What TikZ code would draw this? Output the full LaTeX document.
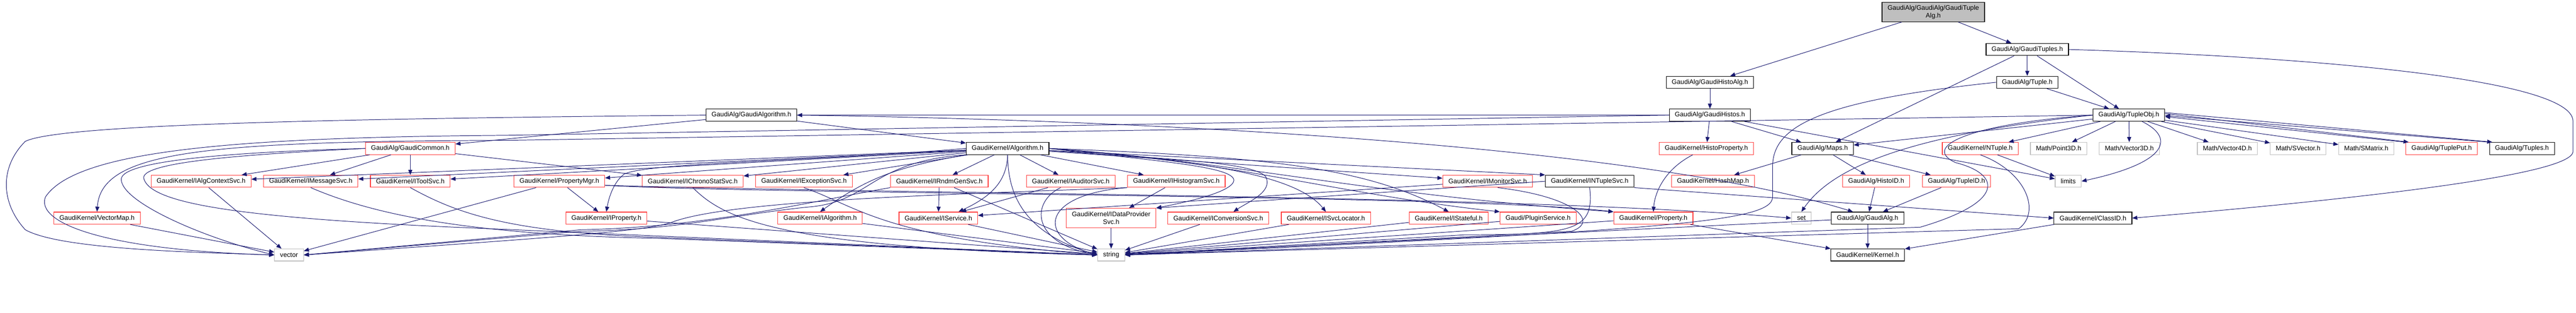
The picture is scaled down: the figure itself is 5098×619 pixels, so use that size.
\documentclass[tikz,border=0pt]{standalone}
\usepackage{fontspec}
\setmainfont{Liberation Sans}
\usetikzlibrary{arrows.meta, shapes}

\definecolor{edgeblue}{RGB}{25,25,112}
\definecolor{boxred}{RGB}{255,60,60}
\definecolor{boxgrey}{RGB}{191,191,191}

\tikzset{
	file/.style={draw=black, rectangle, line width=1.2pt, text=black, minimum height=24pt, inner xsep=11pt, inner ysep=3pt, font=\fontsize{13}{15}\selectfont, align=center},
	redfile/.style={file, draw=boxred},
	sysfile/.style={file, draw=boxgrey},
	mainfile/.style={file, fill=boxgrey}
}

\begin{document}
\begin{tikzpicture}[x=1pt, y=-1pt, ->, >={Triangle[length=10pt, width=8pt]}, color=edgeblue, line width=1pt]
		\useasboundingbox (0,0) rectangle (5098,619);

		\node[mainfile, minimum height=38pt] (0) at (3826, 24) {GaudiAlg/GaudiAlg/GaudiTuple\\Alg.h};
		\node[file] (1) at (3384, 163) {GaudiAlg/GaudiHistoAlg.h};
		\node[file] (2) at (4012, 98) {GaudiAlg/GaudiTuples.h};
		\node[file] (3) at (4012, 163) {GaudiAlg/Tuple.h};
		\node[file] (4) at (1487, 228) {GaudiAlg/GaudiAlgorithm.h};
		\node[file] (5) at (3384, 228) {GaudiAlg/GaudiHistos.h};
		\node[file] (6) at (4213, 228) {GaudiAlg/TupleObj.h};
		\node[redfile] (7) at (812, 294) {GaudiAlg/GaudiCommon.h};
		\node[file] (8) at (1994, 294) {GaudiKernel/Algorithm.h};
		\node[redfile] (9) at (3377, 294) {GaudiKernel/HistoProperty.h};
		\node[file] (10) at (3607, 294) {GaudiAlg/Maps.h};
		\node[redfile] (11) at (3919, 294) {GaudiKernel/NTuple.h};
		\node[sysfile] (12) at (4074, 294) {Math/Point3D.h};
		\node[sysfile] (13) at (4214, 294) {Math/Vector3D.h};
		\node[sysfile] (14) at (4408, 294) {Math/Vector4D.h};
		\node[sysfile] (15) at (4548, 294) {Math/SVector.h};
		\node[sysfile] (16) at (4683, 294) {Math/SMatrix.h};
		\node[redfile] (17) at (4832, 294) {GaudiAlg/TuplePut.h};
		\node[file] (18) at (4991, 294) {GaudiAlg/Tuples.h};
		\node[redfile] (19) at (398, 359) {GaudiKernel/IAlgContextSvc.h};
		\node[redfile] (20) at (615, 359) {GaudiKernel/IMessageSvc.h};
		\node[redfile] (21) at (812, 359) {GaudiKernel/IToolSvc.h};
		\node[redfile] (22) at (1107, 359) {GaudiKernel/PropertyMgr.h};
		\node[redfile] (23) at (1371, 359) {GaudiKernel/IChronoStatSvc.h};
		\node[redfile] (24) at (1591, 359) {GaudiKernel/IExceptionSvc.h};
		\node[redfile] (25) at (1859, 359) {GaudiKernel/IRndmGenSvc.h};
		\node[redfile] (26) at (2119, 359) {GaudiKernel/IAuditorSvc.h};
		\node[redfile] (27) at (2328, 359) {GaudiKernel/IHistogramSvc.h};
		\node[redfile] (28) at (2944, 359) {GaudiKernel/IMonitorSvc.h};
		\node[file] (29) at (3146, 359) {GaudiKernel/INTupleSvc.h};
		\node[redfile] (30) at (3390, 359) {GaudiKernel/HashMap.h};
		\node[redfile] (31) at (3713, 359) {GaudiAlg/HistoID.h};
		\node[redfile] (32) at (3872, 359) {GaudiAlg/TupleID.h};
		\node[sysfile] (33) at (4093, 359) {limits};
		\node[redfile] (34) at (192, 432) {GaudiKernel/VectorMap.h};
		\node[redfile] (35) at (1200, 432) {GaudiKernel/IProperty.h};
		\node[redfile] (36) at (1623, 432) {GaudiKernel/IAlgorithm.h};
		\node[redfile] (37) at (1857, 432) {GaudiKernel/IService.h};
		\node[redfile, minimum height=39pt] (38) at (2199, 432) {GaudiKernel/IDataProvider\\Svc.h};
		\node[redfile] (39) at (2411, 432) {GaudiKernel/IConversionSvc.h};
		\node[redfile] (40) at (2624, 432) {GaudiKernel/ISvcLocator.h};
		\node[redfile] (41) at (2867, 432) {GaudiKernel/IStateful.h};
		\node[redfile] (42) at (3044, 432) {Gaudi/PluginService.h};
		\node[redfile] (43) at (3272, 432) {GaudiKernel/Property.h};
		\node[sysfile] (44) at (3565, 432) {set};
		\node[file] (45) at (3696, 432) {GaudiAlg/GaudiAlg.h};
		\node[file] (46) at (4142, 432) {GaudiKernel/ClassID.h};
		\node[sysfile] (47) at (572, 505) {vector};
		\node[sysfile] (48) at (2199, 505) {string};
		\node[file] (49) at (3696, 505) {GaudiKernel/Kernel.h};

		\path (0) edge (1)
			(0) edge (2)
			(2) edge (3)
			(2) edge (6)
			(2) edge (10)
			(3) edge (6)
			(1) edge (5)
			(5) edge (9)
			(5) edge (10)
			(5) edge (4)
			(5) edge (33)
			(6) edge (11)
			(6) edge (12)
			(6) edge (13)
			(6) edge (14)
			(6) edge (15)
			(6) edge (16)
			([yshift=3pt]6.east) edge ([xshift=6pt]17.north west)
			([xshift=-2pt]17.north west) edge ([yshift=-3pt]6.east)
			([yshift=5pt]6.east) edge ([xshift=6pt]18.north west)
			([xshift=-2pt]18.north west) edge ([yshift=-1pt]6.east)
			(6) edge (10)
			(4) edge (7)
			(4) edge (8)
			(7) edge (19)
			(7) edge (20)
			(7) edge (21)
			(7) edge (23)
			(8) edge (19)
			(8) edge (20)
			(8) edge (21)
			(8) edge (22)
			(8) edge (23)
			(8) edge (24)
			(8) edge (25)
			(8) edge (26)
			(8) edge (27)
			(8) edge (28)
			(8) edge (29.north west)
			(19) edge (47)
			(22) edge (35)
			(22) edge (47)
			(25) edge (37)
			(25) edge (48)
			(26) edge (37)
			(27) edge (38)
			(28) edge (37)
			(29.west) edge (38.north east)
			(29.south east) edge (46.west)
			(35) edge (48)
			(36) edge (48)
			(37) edge (48)
			(38) edge (48)
			(39) edge (48)
			(40) edge (48)
			(41) edge (48)
			(42) edge (48)
			(43) edge (48)
			(43) edge (49)
			(34) edge (47)
			(10) edge (30)
			(10) edge (31)
			(10) edge (32)
			(31) edge (45)
			(32) edge (45)
			(45) edge (49)
			(45) edge (48)
			(11) edge (33)
			(46) edge (49);

		\draw (4.east) .. controls (2300,238) and (3250,290) .. ([xshift=-29pt]45.north);
		\draw (2.east) .. controls (4500,110) and (5092,150) .. (5092,240) -- (5092,300) .. controls (5092,350) and (4600,400) .. (46.east);
		\draw (4.west) .. controls (700,235) and (120,245) .. (50,280) .. controls (0,330) and (0,400) .. (50,455) .. controls (120,495) and (400,500) .. (47.west);
		\draw (5.west) -- (1000,268) .. controls (450,272) and (150,300) .. (90,390) .. controls (70,440) and (200,495) .. (47.west);
		\draw (6.west) -- (1000,278) .. controls (400,280) and (200,300) .. (34.north);
		\draw (7.west) .. controls (500,300) and (240,315) .. (240,355) .. controls (240,400) and (400,470) .. (47.west);
		\draw (7.west) .. controls (500,305) and (270,320) .. (285,355) .. controls (300,400) and (450,430) .. (900,450) -- (48.west);
		\draw (3.west) .. controls (3600,200) and (3508,250) .. (3508,330) -- (3508,390) .. controls (3508,440) and (3300,455) .. (48.east);
		\draw (6.west) .. controls (3900,245) and (3800,290) .. (3870,322) .. controls (3960,345) and (3970,400) .. (3800,450) -- (48.east);
		\draw (11.south) .. controls (4010,340) and (4040,420) .. (3995,453) -- (48.east);
		\draw ([xshift=26pt]6.south) .. controls (4300,270) and (4300,320) .. (33.east);
		\draw (6.west) .. controls (3750,270) and (3620,340) .. (44.north);
		\draw ([xshift=-27pt]9.south) .. controls (3295,335) and (3275,380) .. (43.north);

		\draw (8.west) .. controls (1600,320) and (1280,322) .. (1235,345) .. controls (1215,360) and (1205,390) .. (35.north);
		\draw (8.south west) .. controls (1780,330) and (1720,350) .. (36.north);
		\draw (8.south) .. controls (1993,360) and (1960,390) .. ([xshift=40pt]37.north);
		\draw (8.east) .. controls (2300,320) and (2440,330) .. (2442,357) .. controls (2440,380) and (2350,400) .. (38.north east);
		\draw ([yshift=-4pt]8.east) .. controls (2300,315) and (2480,320) .. (2505,350) .. controls (2520,380) and (2470,400) .. ([xshift=30pt]39.north);
		\draw (8.east) .. controls (2350,318) and (2560,340) .. (40.north);
		\draw (8.east) .. controls (2500,310) and (2700,330) .. (41.north);
		\draw (8.east) .. controls (2450,320) and (2650,385) .. (42.north west);
		\draw (8.east) .. controls (2450,320) and (2700,385) .. (43.north west);
		\draw (8.south west) .. controls (1720,320) and (1725,400) .. (1600,410) .. controls (1450,425) and (1350,455) .. (1150,458) -- (47.east);
		\draw (8.south) .. controls (1995,380) and (2020,460) .. (48.west);
		\draw ([yshift=-8pt]22.east) .. controls (1500,385) and (2900,385) .. (43.north west);
		\draw ([yshift=-8pt]22.east) .. controls (1800,385) and (3000,385) .. (44.west);
		\draw (20.south) .. controls (750,430) and (950,465) .. (1300,472) -- (48.west);
		\draw (21.south) .. controls (900,420) and (1000,460) .. (1300,470) -- (48.west);
		\draw (23.south) .. controls (1430,430) and (1530,490) .. (48.west);
		\draw (24.south) .. controls (1700,410) and (1745,470) .. (48.west);
		\draw (25.south west) .. controls (1600,400) and (1400,450) .. (1150,455) -- (47.east);
		\draw ([xshift=-20pt]26.south) .. controls (2040,400) and (2040,480) .. (48.west);
		\draw (27.south west) .. controls (2060,385) and (2050,470) .. (48.west);
		\draw (27.south west) .. controls (1900,385) and (1450,395) .. (1330,440) .. controls (1280,458) and (1100,470) .. (47.east);
		\draw ([xshift=20pt]28.south) .. controls (3120,390) and (3165,440) .. (3110,458) -- (48.east);
		\draw (29.south) .. controls (3155,455) and (3120,465) .. (2900,465) -- (48.east);
	\end{tikzpicture}
\end{document}
